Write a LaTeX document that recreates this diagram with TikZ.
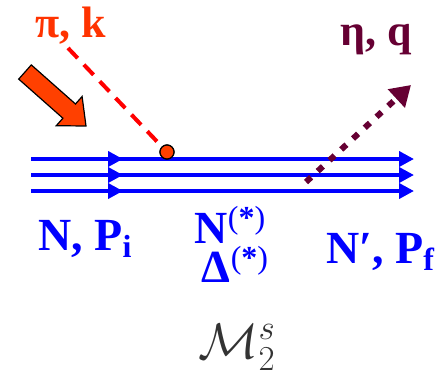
\documentclass[tikz,border=0pt]{standalone}
\usepackage{fix-cm}
\usepackage{amsmath, amssymb}
\usepackage{xcolor}
\usepackage{fontspec}
\setmainfont{Liberation Serif}
\usetikzlibrary{arrows.meta}
\definecolor{pionred}{RGB}{255,51,0}
\definecolor{kickorange}{RGB}{255,64,0}
\definecolor{etamaroon}{RGB}{102,0,51}

\begin{document}
\begin{tikzpicture}[x=1pt, y=-1pt,
    nucleon/.style={line width=4pt, blue, -{Triangle[length=15pt,width=15pt]}},
    biglabel/.style={anchor=base, inner sep=0pt, font=\fontsize{46}{50}\selectfont\bfseries},
    smalllabel/.style={anchor=base, inner sep=0pt, font=\fontsize{44}{48}\selectfont\bfseries},
    pion/.style={red, line width=4pt, dash pattern=on 14pt off 9pt},
    eta/.style={etamaroon, line width=6pt, dash pattern=on 7pt off 9pt, -{Triangle[length=20pt,width=24pt]}}]
        \useasboundingbox (0,0) rectangle (448,376);

        % Nukleon -- trzy linie
        \foreach \n/\y in {1/159, 2/175, 3/191} {
            \coordinate (in\n) at (31,\y);
            \coordinate (mid\n) at (123,\y);
            \coordinate (out\n) at (414,\y);
            \draw[nucleon] (in\n) -- (out\n);
            \draw[nucleon] (in\n) -- (mid\n);
        }

        % Wpadajacy pion
        \coordinate (pistart) at (68,48);
        \node[circle, draw=black, line width=1.2pt, fill=kickorange, minimum size=14pt, inner sep=0pt] (vtx) at (167,152) {};
        \draw[pion] (pistart) -- (vtx);
        \node[circle, draw=black, line width=1.2pt, fill=kickorange, minimum size=14pt, inner sep=0pt] at (vtx) {};
        \node[smalllabel, text=pionred] (pik) at (71,37) {π, k};

        % Gruba strzalka
        \draw[fill=kickorange, line width=1.2pt, line join=miter]
            (18.7,79.1) -- (31.3,64.9) -- (75.5,104.0) -- (82.1,96.5) -- (86,126)
            -- (56.3,125.7) -- (62.9,118.2) -- cycle;

        % Wychodzacy eta
        \coordinate (etastart) at (306,182);
        \coordinate (etaend) at (411,85);
        \draw[eta] (etastart) -- (etaend);
        \node[smalllabel, text=etamaroon] (etaq) at (376,45) {η, q};

        % Opisy nukleonow
        \node[biglabel, text=blue] (Nin) at (85,250)
            {N, P\raisebox{-0.17em}{\fontsize{32}{34}\selectfont i}};
        \node[biglabel, text=blue] (res1) at (230,243)
            {N\raisebox{0.32em}{\fontsize{32}{34}\selectfont\textmd{(}*\textmd{)}}};
        \node[biglabel, text=blue] (res2) at (235,282)
            {Δ\raisebox{0.3em}{\fontsize{32}{34}\selectfont\textmd{(}*\textmd{)}}};
        \node[biglabel, text=blue] (Nout) at (380,263)
            {N′, P\raisebox{-0.17em}{\fontsize{32}{34}\selectfont f}};

        % Amplituda
        \node[anchor=base, inner sep=0pt, text=black!80, font=\fontsize{50}{55}\selectfont] (amp) at (237,358)
            {$\mathcal{M}_2^s$};
\end{tikzpicture}
\end{document}
